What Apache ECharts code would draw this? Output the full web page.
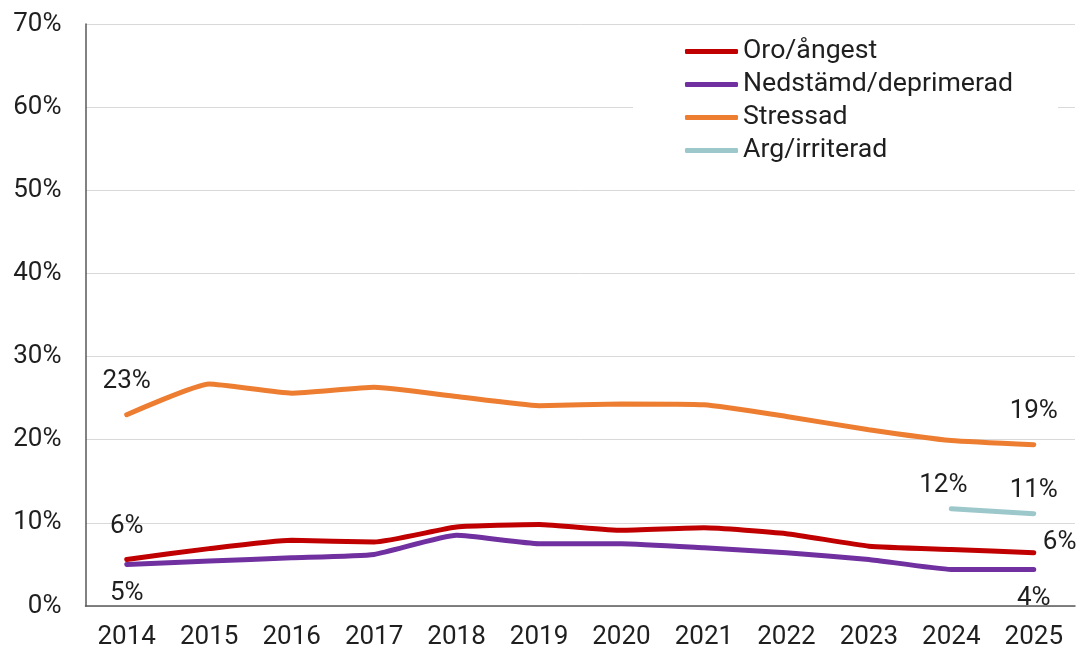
<!DOCTYPE html>
<html>
<head>
<meta charset="utf-8">
<script src="https://cdn.jsdelivr.net/npm/echarts@6/dist/echarts.min.js"></script>
<style>
  html, body { margin: 0; padding: 0; background: #fff; }
  #chart { width: 1079px; height: 651px; }
</style>
</head>
<body>
<div id="chart"></div>
<script>
const years = ["2014", "2015", "2016", "2017", "2018", "2019", "2020", "2021", "2022", "2023", "2024", "2025"];

const oro = [5.6, 6.9, 7.9, 7.7, 9.5, 9.8, 9.1, 9.4, 8.7, 7.2, 6.8, 6.4];
const nedstamd = [5.0, 5.4, 5.8, 6.2, 8.5, 7.5, 7.5, 7.0, 6.4, 5.6, 4.4, 4.4];
const stressad = [23.0, 26.7, 25.6, 26.3, 25.2, 24.1, 24.3, 24.2, 22.8, 21.2, 19.9, 19.4];
const arg = [null, null, null, null, null, null, null, null, null, null, 11.7, 11.1];

const yTicks = [0, 10, 20, 30, 40, 50, 60, 70];

const font = "Roboto, 'Liberation Sans', sans-serif";
const textColor = "#1f1f1f";

// where each shown value label sits, by data index
const labelSpots = {
  oro: { 0: { position: "top", distance: 20 }, 11: { position: "right", distance: 9, offset: [0, -10] } },
  nedstamd: { 0: { position: "bottom", distance: 16 }, 11: { position: "bottom", distance: 16 } },
  stressad: { 0: { position: "top", distance: 20 }, 11: { position: "top", distance: 20 } },
  arg: { 10: { position: "top", distance: 10, offset: [-8, 0] }, 11: { position: "top", distance: 10 } }
};

function withLabels(values, spots) {
  return values.map((v, i) => {
    const spot = spots[i];
    if (!spot || v == null) return v;
    return {
      value: v,
      label: {
        show: true,
        formatter: p => Math.round(p.value) + "%",
        fontFamily: font,
        fontSize: 26,
        color: textColor,
        ...spot
      }
    };
  });
}

function line(name, values, key, color) {
  return {
    name,
    type: "line",
    data: withLabels(values, labelSpots[key]),
    smooth: 0.15,
    symbol: "circle",
    symbolSize: 0,
    showSymbol: true,
    lineStyle: { width: 5, color, cap: "round" },
    itemStyle: { color },
    emphasis: { disabled: true },
    connectNulls: false
  };
}

const chart = echarts.init(document.getElementById("chart"));

chart.setOption({
  animation: false,
  textStyle: { fontFamily: font },
  grid: { left: 85.5, right: 4, top: 24, bottom: 45, containLabel: false },
  legend: {
    orient: "vertical",
    left: 633,
    top: 30,
    padding: [8, 45, 12, 52],
    backgroundColor: "#ffffff",
    icon: "roundRect",
    itemWidth: 53,
    itemHeight: 5,
    itemGap: 6,
    textStyle: { fontFamily: font, fontSize: 26.7, lineHeight: 26, color: textColor },
    data: ["Oro/ångest", "Nedstämd/deprimerad", "Stressad", "Arg/irriterad"]
  },
  xAxis: {
    type: "category",
    data: years,
    boundaryGap: true,
    axisTick: { show: false },
    axisLine: { lineStyle: { color: "#595959", width: 1.5 } },
    axisLabel: { fontFamily: font, fontSize: 26, color: textColor, margin: 18 }
  },
  yAxis: {
    type: "value",
    min: yTicks[0],
    max: yTicks[yTicks.length - 1],
    interval: yTicks[1] - yTicks[0],
    axisLine: { show: true, lineStyle: { color: "#595959", width: 1.5 } },
    axisTick: { show: false },
    splitLine: { lineStyle: { color: "#d9d9d9", width: 1 } },
    axisLabel: { fontFamily: font, fontSize: 26, color: textColor, margin: 24, formatter: "{value}%" }
  },
  series: [
    line("Oro/ångest", oro, "oro", "#c00000"),
    line("Nedstämd/deprimerad", nedstamd, "nedstamd", "#7030a0"),
    line("Stressad", stressad, "stressad", "#ed7d31"),
    line("Arg/irriterad", arg, "arg", "#9dc8cb")
  ]
});
</script>
</body>
</html>
